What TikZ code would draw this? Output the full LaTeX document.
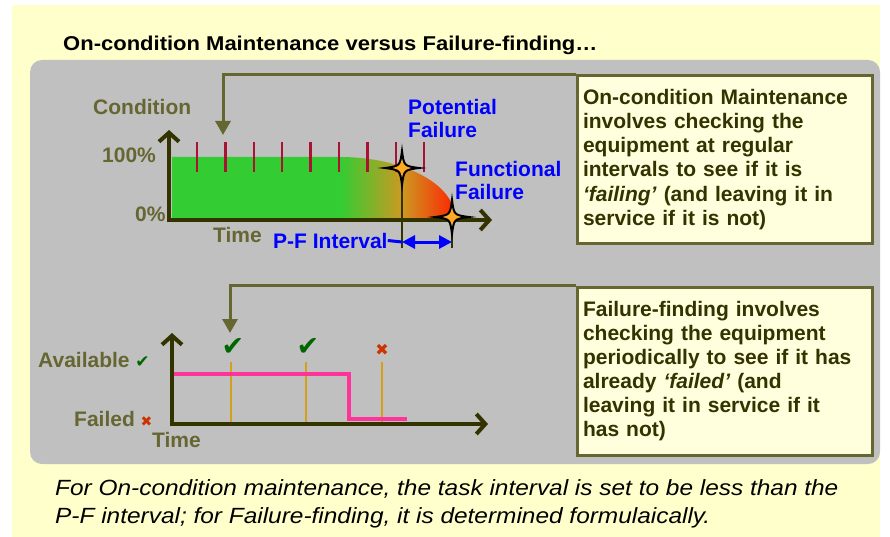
\documentclass[tikz,border=0pt]{standalone}
\usepackage{fontspec}
\setmainfont{Liberation Sans}
\newfontfamily\symfont{DejaVu Sans}
\usetikzlibrary{arrows.meta, positioning}

\definecolor{bgyellow}{HTML}{FFFFCC}
\definecolor{panelgray}{HTML}{C0C0C0}
\definecolor{labelolive}{HTML}{666633}
\definecolor{boxline}{HTML}{666633}
\definecolor{boxfill}{HTML}{FFFFDD}
\definecolor{boxtext}{HTML}{333300}
\definecolor{axisdark}{HTML}{333300}
\definecolor{tickred}{HTML}{AA1133}
\definecolor{pfblue}{HTML}{0000FF}
\definecolor{stepink}{HTML}{FF3399}
\definecolor{checkorange}{HTML}{D4A017}
\definecolor{checkgreen}{HTML}{006600}
\definecolor{crossred}{HTML}{CC3300}
\definecolor{condgreen}{HTML}{33CC33}
\definecolor{midorange}{HTML}{CC9922}
\definecolor{endred}{HTML}{FF2200}
\definecolor{starorange}{HTML}{FFAA22}

\newcommand{\lblfont}{\bfseries\fontsize{21}{23}\selectfont}

\tikzset{
  lbl/.style={font=\lblfont, text=labelolive, inner sep=0pt, anchor=base west},
  bluelbl/.style={font=\lblfont, text=pfblue, inner sep=0pt, align=left, anchor=north west},
  notebox/.style={draw=boxline, line width=3pt, fill=boxfill, text=boxtext,
    font=\bfseries\fontsize{21}{24.1}\selectfont, text width=283pt, align=left,
    inner xsep=6pt, inner ysep=0pt, minimum height=167pt},
  feedback/.style={draw=boxline, line width=3pt, -{Triangle[length=14pt,width=15pt]}},
  chartaxis/.style={draw=axisdark, line width=4pt,
    {Straight Barb[length=9pt,width=20pt]}-{Straight Barb[length=9pt,width=20pt]}},
  tickmark/.style={draw=tickred, line width=2.5pt},
  dropline/.style={draw=axisdark, line width=2pt},
  checkline/.style={draw=checkorange, line width=2pt},
  footnote/.style={font=\itshape\fontsize{22}{22}\selectfont, inner sep=0pt, anchor=base west},
  fourstar/.pic={
    \filldraw[fill=starorange, draw=black, line width=2pt]
      (0,-17) .. controls (2,-2) .. (17,0) .. controls (2,2) .. (0,17)
      .. controls (-2,2) .. (-17,0) .. controls (-2,-2) .. (0,-17) -- cycle;
  }
}

\begin{document}
\begin{tikzpicture}[x=1pt, y=-1pt]
    \useasboundingbox (0,0) rectangle (890,537);
    \fill[bgyellow] (12,5) rectangle (880,537);
    \fill[panelgray, rounded corners=12pt] (30,60) rectangle (880,464);

    % condition curve, green to red
    \begin{scope}
    \clip (172,157) -- (340,157) .. controls (403.5,157) and (455,184.3) .. (455,218) -- (172,218) -- cycle;
    \fill[condgreen] (172,150) rectangle (340,225);
    \shade[left color=condgreen, right color=midorange] (340,150) rectangle (402,225);
    \shade[left color=midorange, right color=endred] (402,150) rectangle (456,225);
    \end{scope}

    \foreach \i in {0,...,8}
        \draw[tickmark] ({197+28.4*\i},142) -- ++(0,30);

    \draw[dropline] (402,168) -- (402,248);
    \draw[dropline] (452,217) -- (452,248);
    \draw[chartaxis] (169,130) -- (169,220) -- (492,220);
    \pic at (402,168) {fourstar};
    \pic at (452,217) {fourstar};

    % failure-finding chart
    \foreach \x in {231,306,382}
        \draw[checkline] (\x,362) -- (\x,422);
    \draw[stepink, line width=3.5pt] (174,374) -- (349,374) -- (349,419) -- (407,419);
    \draw[chartaxis] (172,333) -- (172,424) -- (488,424);

    \begin{scope}[every node/.style={lbl}]
    \node (cond) at (93,115) {Condition};
    \node (full) at (102,163) {100\%};
    \node (zero) at (135,222) {0\%};
    \node (time1) at (213,242) {Time};
    \node (avail) at (38,367) {Available {\symfont\fontsize{17}{17}\selectfont\color{checkgreen}✔}};
    \node (failed) at (74,426) {Failed {\symfont\fontsize{14}{14}\selectfont\color{crossred}✖}};
    \node (time2) at (152,447) {Time};
    \node[text=pfblue] (pftxt) at (273,248) {P-F Interval};
    \end{scope}

    \node[bluelbl] (potf) at (408,98.7) {Potential\\Failure};
    \node[bluelbl] (funf) at (455,160.7) {Functional\\Failure};

    \draw[pfblue, line width=3pt] (pftxt.east) -- (402,242);
    \draw[pfblue, line width=3pt, {Triangle[length=13pt,width=13pt]}-{Triangle[length=13pt,width=13pt]}] (402,242) -- (452,242);

    \node[font=\symfont\fontsize{27}{27}\selectfont, text=checkgreen] (chk1) at (233,347) {✔};
    \node[font=\symfont\fontsize{27}{27}\selectfont, text=checkgreen] (chk2) at (308,347) {✔};
    \node[font=\symfont\fontsize{16}{16}\selectfont, text=crossred] (crs) at (382,350) {✖};

    % explanation boxes
    \node[notebox] (ocm) at (724.5,159.5) {On-condition Maintenance\\
        involves checking the\\
        equipment at regular\\
        intervals to see if it is\\
        \textit{‘failing’} (and leaving it in\\
        service if it is not)};
    \node[notebox, minimum height=168pt] (ffm) at (724.5,371) {Failure-finding involves\\
        checking the equipment\\
        periodically to see if it has\\
        already \textit{‘failed’} (and\\
        leaving it in service if it\\
        has not)};

    \coordinate (ocmtip) at (223,135);
    \coordinate (ffmtip) at (230,333);
    \draw[feedback] (ocm.north west) -| (ocmtip);
    \draw[feedback] (ffm.north west) -| (ffmtip);

    \node[font=\bfseries\fontsize{20}{20}\selectfont, inner sep=0pt, anchor=base west] (title) at (63,51)
        {\scalebox{1.1}[1]{On-condition Maintenance versus Failure-finding…}};
    \node[footnote] (foot1) at (55,495)
        {\scalebox{1.11}[1]{For On-condition maintenance, the task interval is set to be less than the}};
    \node[footnote] (foot2) at (55,523)
        {\scalebox{1.11}[1]{P-F interval; for Failure-finding, it is determined formulaically.}};
\end{tikzpicture}
\end{document}
